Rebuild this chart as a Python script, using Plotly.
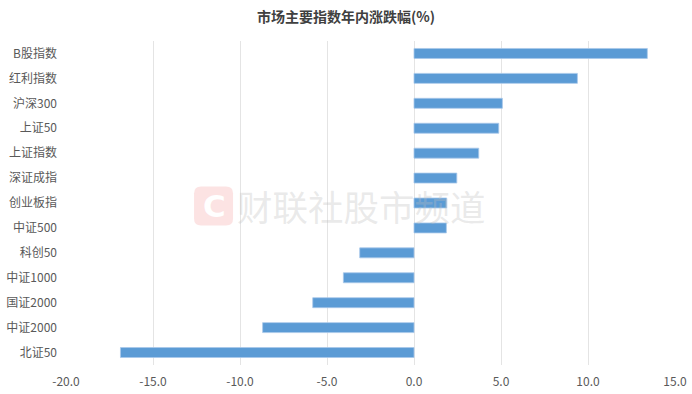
import plotly.graph_objects as go

categories = ["B股指数", "红利指数", "沪深300", "上证50", "上证指数", "深证成指", "创业板指",
              "中证500", "科创50", "中证1000", "国证2000", "中证2000", "北证50"]
values = [13.41, 9.39, 5.08, 4.87, 3.72, 2.46, 1.88, 1.86, -3.12, -4.06, -5.82, -8.70, -16.87]
x_ticks = [-20, -15, -10, -5, 0, 5, 10, 15]
x_tick_labels = ["-20.0", "-15.0", "-10.0", "-5.0", "0.0", "5.0", "10.0", "15.0"]

font_cjk = "Noto Sans CJK SC, Microsoft YaHei, sans-serif"

fig = go.Figure()
fig.add_trace(go.Bar(
    y=categories, x=values, orientation="h", width=0.4,
    marker=dict(color="#5B9BD5", line=dict(color="#a8c8ea", width=0.8)),
    hoverinfo="x+y",
))

# watermark: rounded pink logo + text
r = 7
h = 19.5
path = (f"M {-h + r},{-h} L {h - r},{-h} Q {h},{-h} {h},{-h + r} L {h},{h - r} "
        f"Q {h},{h} {h - r},{h} L {-h + r},{h} Q {-h},{h} {-h},{h - r} "
        f"L {-h},{-h + r} Q {-h},{-h} {-h + r},{-h} Z")
fig.add_shape(type="path", xref="x", yref="paper", xsizemode="pixel", ysizemode="pixel",
              xanchor=-11.52, yanchor=0.491, path=path,
              fillcolor="#fce3e3", line=dict(width=0), layer="below")
fig.add_annotation(text="<b>C</b>", xref="x", yref="paper", x=-11.45, y=0.491,
                   showarrow=False, yanchor="middle",
                   font=dict(family="DejaVu Sans, Liberation Sans, sans-serif",
                             size=31, color="white"))
fig.add_annotation(text="财联社股市频道", xref="x", yref="paper", x=-3.0, y=0.491,
                   showarrow=False, yanchor="middle",
                   font=dict(family=font_cjk, size=35.5, color="rgba(190,190,190,0.32)"))

fig.update_layout(
    width=692, height=394,
    margin=dict(l=66, r=17, t=40.5, b=28.5, autoexpand=False),
    paper_bgcolor="white", plot_bgcolor="white",
    showlegend=False,
    title=dict(text="<b>市场主要指数年内涨跌幅(%)</b>", x=0.5, xref="container",
               y=1 - 17 / 394, yref="container", xanchor="center", yanchor="middle",
               font=dict(family=font_cjk, size=14, color="#404040")),
    xaxis=dict(range=[-20, 15], tickvals=x_ticks, ticktext=x_tick_labels,
               showgrid=True, gridcolor="#e4e4e4", gridwidth=1,
               zeroline=True, zerolinecolor="#e4e4e4", zerolinewidth=1,
               showline=False, ticks="", automargin=False, ticklabelstandoff=8,
               tickfont=dict(family=font_cjk, size=12, color="#595959")),
    yaxis=dict(autorange="reversed", showgrid=False, zeroline=False, showline=False,
               ticks="", ticklabelstandoff=8, automargin=False,
               tickfont=dict(family=font_cjk, size=12, color="#595959")),
)

fig.write_html("out.html", config={"displayModeBar": False},
               post_script="document.body.style.margin='0';")
